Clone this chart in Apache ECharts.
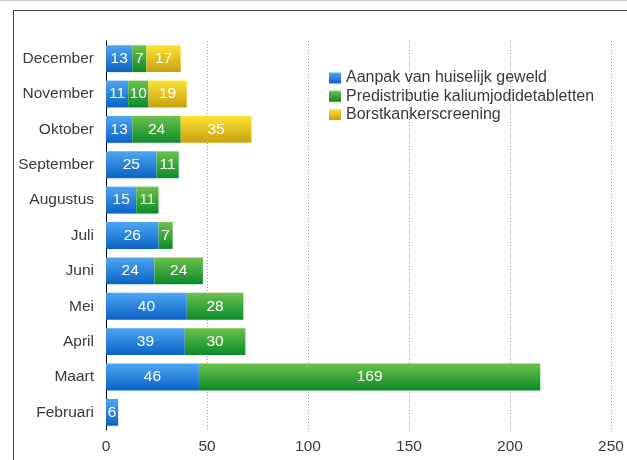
<!DOCTYPE html>
<html>
<head>
<meta charset="utf-8">
<script src="https://cdn.jsdelivr.net/npm/echarts@6/dist/echarts.min.js"></script>
<style>html,body{margin:0;padding:0;background:#fff}#c{width:627px;height:460px}</style>
</head>
<body>
<div id="c"></div>
<script>
var categories = ['Februari','Maart','April','Mei','Juni','Juli','Augustus','September','Oktober','November','December'];
var seriesNames = ['Aanpak van huiselijk geweld','Predistributie kaliumjodidetabletten','Borstkankerscreening'];
var huiselijkGeweld = [6, 46, 39, 40, 24, 26, 15, 25, 13, 11, 13];
var kaliumjodide = [null, 169, 30, 28, 24, 7, 11, 11, 24, 10, 7];
var borstkanker = [null, null, null, null, null, null, null, null, 35, 19, 17];
var xTicks = [0, 50, 100, 150, 200, 250];

function grad(top, bottom) {
  return {type:'linear', x:0, y:0, x2:0, y2:1, colorStops:[{offset:0,color:top},{offset:1,color:bottom}]};
}
var colors = [grad('#4da6f2','#0a62c6'), grad('#6cc24a','#0b8a2c'), grad('#fde232','#c9a112')];
var allData = [huiselijkGeweld, kaliumjodide, borstkanker];

var chart = echarts.init(document.getElementById('c'), null, {renderer:'canvas'});
var font = "'Liberation Sans', Arial, sans-serif";
chart.setOption({
  animation: false,
  textStyle: {fontFamily: font},
  grid: {left: 106, right: 16, top: 41, bottom: 30, containLabel: false},
  legend: {
    orient: 'vertical', left: 324, top: 65, itemWidth: 12, itemHeight: 11, itemGap: 2.3,
    icon: 'rect',
    textStyle: {fontSize: 16, color: '#3a3a3a', fontFamily: font},
    data: seriesNames
  },
  xAxis: {
    type: 'value', min: xTicks[0], max: xTicks[xTicks.length-1], interval: 50,
    axisLine: {show: false}, axisTick: {show: false},
    axisLabel: {fontSize: 15.5, color: '#3a3a3a', margin: 9, fontFamily: font},
    splitLine: {show: true, lineStyle: {color: '#999', type: [1,2], width: 1}}
  },
  yAxis: {
    type: 'category', data: categories,
    axisLine: {show: true, lineStyle: {color: '#000', width: 1}},
    axisTick: {show: false},
    axisLabel: {fontSize: 15.5, color: '#3a3a3a', margin: 12, fontFamily: font},
    splitLine: {show: false}
  },
  series: seriesNames.map(function(n, i){
    return {
      name: n, type: 'bar', stack: 'total', barWidth: '76%',
      data: allData[i],
      itemStyle: {color: colors[i]},
      label: {show: true, position: 'inside', color: '#fff', fontSize: 15.5, fontFamily: font,
        formatter: function(p){ return p.value == null ? '' : p.value; }}
    };
  }),
  graphic: [
    {type:'line', shape:{x1:13, y1:10.5, x2:627, y2:10.5}, style:{stroke:'#444', lineWidth:1}},
    {type:'line', shape:{x1:13.5, y1:10, x2:13.5, y2:460}, style:{stroke:'#444', lineWidth:1}},
    {type:'line', shape:{x1:0, y1:0.5, x2:627, y2:0.5}, style:{stroke:'#ccc', lineWidth:1}}
  ]
});
</script>
</body>
</html>
